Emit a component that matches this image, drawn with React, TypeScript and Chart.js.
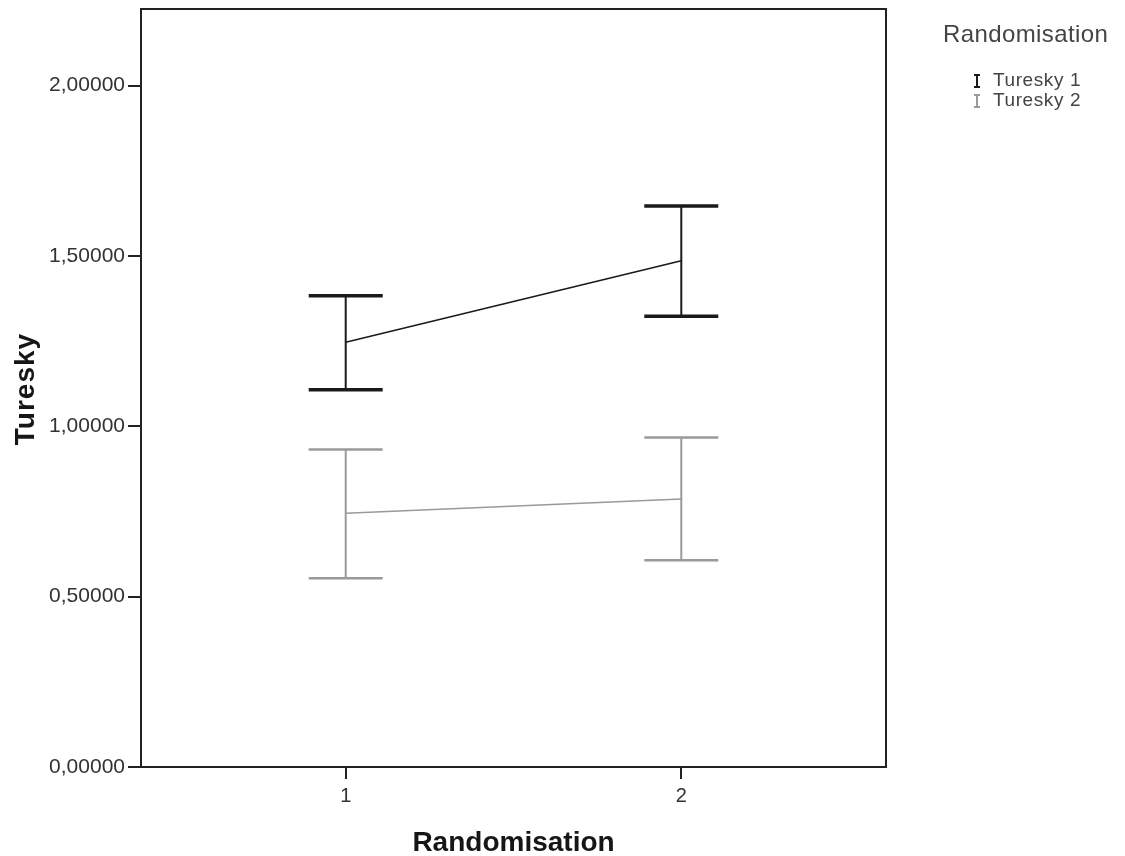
import React, { useEffect, useRef } from "react";
import { Chart, registerables } from "chart.js";

Chart.register(...registerables);

const categories = [1, 2];
const tickLabelsY = ["0,00000", "0,50000", "1,00000", "1,50000", "2,00000"];
const tickValuesY = [0, 0.5, 1.0, 1.5, 2.0];

const turesky1Mean = [1.247, 1.486];
const turesky1Upper = [1.383, 1.647];
const turesky1Lower = [1.107, 1.323];

const turesky2Mean = [0.745, 0.787];
const turesky2Upper = [0.932, 0.967];
const turesky2Lower = [0.554, 0.607];

const seriesNames = ["Turesky 1", "Turesky 2"];
const legendTitle = "Randomisation";
const xTitle = "Randomisation";
const yTitle = "Turesky";

const COLORS = ["#1a1a1a", "#9a9a9a"];
const FONT = "'Liberation Sans', Arial, sans-serif";

const errorBarPlugin = {
  id: "errorBars",
  afterDatasetsDraw(chart: any) {
    const { ctx, scales, chartArea } = chart;
    const xs = scales.x;
    const ys = scales.y;
    const sets = [
      { up: turesky1Upper, lo: turesky1Lower, color: COLORS[0], cap: 3.5, stem: 2 },
      { up: turesky2Upper, lo: turesky2Lower, color: COLORS[1], cap: 2.5, stem: 2 },
    ];
    ctx.save();
    const half = 37;
    sets.forEach((s) => {
      ctx.strokeStyle = s.color;
      categories.forEach((c, i) => {
        const x = xs.getPixelForValue(c);
        const yu = ys.getPixelForValue(s.up[i]);
        const yl = ys.getPixelForValue(s.lo[i]);
        ctx.lineWidth = s.stem;
        ctx.beginPath();
        ctx.moveTo(x, yu);
        ctx.lineTo(x, yl);
        ctx.stroke();
        ctx.lineWidth = s.cap;
        ctx.beginPath();
        ctx.moveTo(x - half, yu);
        ctx.lineTo(x + half, yu);
        ctx.moveTo(x - half, yl);
        ctx.lineTo(x + half, yl);
        ctx.stroke();
      });
    });
    // frame
    ctx.strokeStyle = "#222";
    ctx.lineWidth = 2;
    ctx.strokeRect(chartArea.left, chartArea.top, chartArea.right - chartArea.left, chartArea.bottom - chartArea.top);

    // axis titles
    ctx.fillStyle = "#161616";
    ctx.textAlign = "center";
    ctx.textBaseline = "middle";
    ctx.font = `bold 28px ${FONT}`;
    (ctx as any).letterSpacing = "0px";
    ctx.fillText(xTitle, (chartArea.left + chartArea.right) / 2, 843);
    ctx.save();
    ctx.translate(26, 389);
    ctx.rotate(-Math.PI / 2);
    (ctx as any).letterSpacing = "1px";
    ctx.font = `bold 28px ${FONT}`;
    ctx.fillText(yTitle, 0, 0);
    ctx.restore();

    // legend
    ctx.fillStyle = "#444";
    ctx.textBaseline = "middle";
    ctx.textAlign = "left";
    (ctx as any).letterSpacing = "0.4px";
    ctx.font = `24px ${FONT}`;
    ctx.fillText(legendTitle, 943, 35);
    (ctx as any).letterSpacing = "0.6px";
    ctx.font = `19px ${FONT}`;
    seriesNames.forEach((n, i) => {
      const y = 81 + i * 20;
      const ix = 977;
      ctx.strokeStyle = COLORS[i];
      ctx.lineWidth = 2;
      ctx.beginPath();
      ctx.moveTo(ix - 3, y - 6);
      ctx.lineTo(ix + 3, y - 6);
      ctx.moveTo(ix, y - 6);
      ctx.lineTo(ix, y + 6);
      ctx.moveTo(ix - 3, y + 6);
      ctx.lineTo(ix + 3, y + 6);
      ctx.stroke();
      ctx.fillStyle = "#444";
      ctx.fillText(n, 993, y);
    });
    (ctx as any).letterSpacing = "0px";
    ctx.restore();
  },
};

export default function App() {
  const ref = useRef<HTMLCanvasElement | null>(null);
  useEffect(() => {
    if (!ref.current) return;
    const chart = new Chart(ref.current, {
      type: "line",
      data: {
        datasets: [
          {
            label: seriesNames[0],
            data: categories.map((c, i) => ({ x: c, y: turesky1Mean[i] })),
            borderColor: COLORS[0],
            borderWidth: 1.5,
            pointRadius: 0,
          },
          {
            label: seriesNames[1],
            data: categories.map((c, i) => ({ x: c, y: turesky2Mean[i] })),
            borderColor: COLORS[1],
            borderWidth: 1.5,
            pointRadius: 0,
          },
        ],
      },
      options: {
        animation: false,
        responsive: false,
        maintainAspectRatio: false,
        layout: { padding: { left: 0, right: 239, top: 9, bottom: 0 } },
        plugins: { legend: { display: false }, tooltip: { enabled: false } },
        scales: {
          x: {
            type: "linear",
            min: 0.39,
            max: 2.61,
            afterBuildTicks(scale: any) {
              scale.ticks = categories.map((v) => ({ value: v }));
            },
            afterFit(scale: any) {
              scale.height = 89;
              scale.paddingLeft = 0;
              scale.paddingRight = 0;
            },
            grid: { drawOnChartArea: false, drawTicks: true, tickLength: 12, color: "#222", lineWidth: 2 },
            border: { display: true, color: "#222", width: 2 },
            ticks: {
              color: "#333",
              font: { family: FONT, size: 20 },
              padding: 5,
              callback: (v: any) => String(v),
            },
          },
          y: {
            min: 0,
            max: 2.225,
            afterBuildTicks(scale: any) {
              scale.ticks = tickValuesY.map((v) => ({ value: v }));
            },
            afterFit(scale: any) {
              scale.width = 141;
              scale.paddingTop = 0;
              scale.paddingBottom = 0;
            },
            grid: { drawOnChartArea: false, drawTicks: true, tickLength: 13, color: "#222", lineWidth: 2 },
            border: { display: true, color: "#222", width: 2 },
            ticks: {
              color: "#333",
              font: { family: FONT, size: 21 },
              padding: 3,
              callback: (v: any) => {
                const idx = tickValuesY.indexOf(Number(v));
                return idx >= 0 ? tickLabelsY[idx] : "";
              },
            },
          },
        },
      } as any,
      plugins: [errorBarPlugin],
    });
    return () => chart.destroy();
  }, []);
  return (
    <div style={{ position: "absolute", left: 0, top: 0, width: 1125, height: 856, background: "#fff" }}>
      <canvas ref={ref} width={1125} height={856} style={{ width: 1125, height: 856 }} />
    </div>
  );
}
